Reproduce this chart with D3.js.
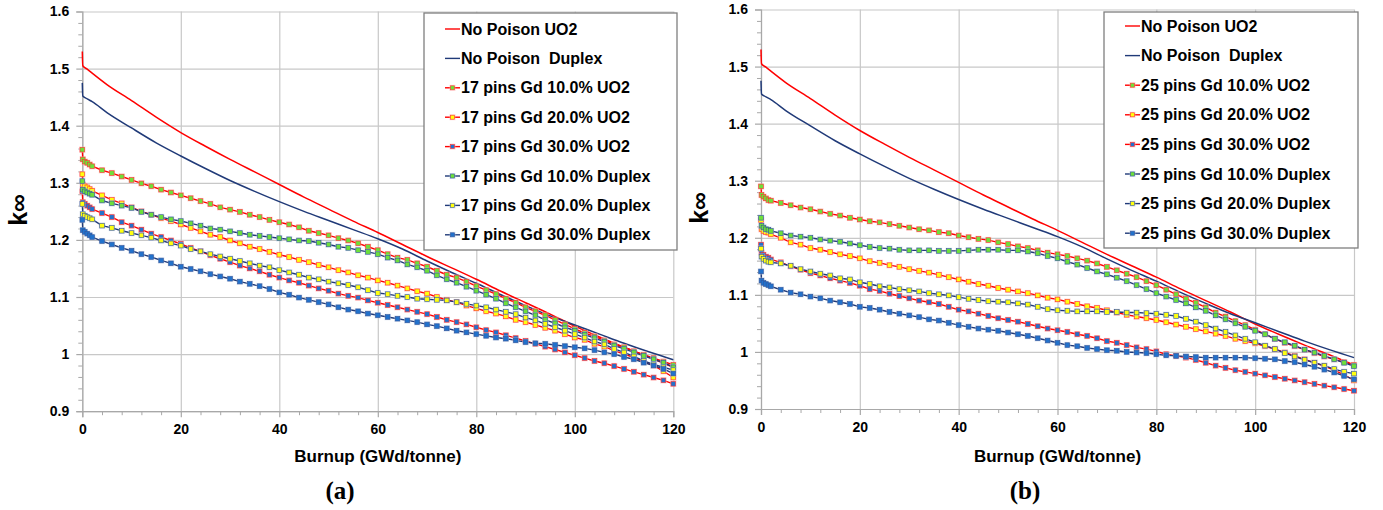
<!DOCTYPE html>
<html><head><meta charset="utf-8">
<script src="https://cdn.jsdelivr.net/npm/d3@7/dist/d3.min.js"></script>
<style>body{margin:0;background:#fff}svg{display:block}</style>
</head><body>
<svg id="chart" width="1383" height="510"></svg>
<script>
// ---------------- DATA ----------------
const burnup = [0,0.1,0.5,1,1.5,2,4,6,8,10,12,14,16,18,20,22,24,26,28,30,32,34,36,38,40,42,44,46,48,50,52,54,56,58,60,62,64,66,68,70,72,74,76,78,80,82,84,86,88,90,92,94,96,98,100,102,104,106,108,110,112,114,116,118,120];

const npBurnup = [0,0.1,1,2,5,10,15,20,25,30,35,40,45,50,55,60,65,70,75,80,85,90,95,100,105,110,115,120];
const npUO2    = [1.530,1.505,1.499,1.492,1.472,1.444,1.415,1.388,1.364,1.341,1.319,1.297,1.275,1.254,1.233,1.213,1.192,1.171,1.151,1.131,1.110,1.090,1.070,1.049,1.030,1.012,0.995,0.977];
const npDuplex = [1.475,1.452,1.447,1.442,1.423,1.396,1.370,1.347,1.325,1.304,1.285,1.267,1.250,1.234,1.218,1.202,1.184,1.163,1.143,1.124,1.104,1.085,1.067,1.051,1.035,1.019,1.004,0.990];

// 17 pins (panel a)
const p17_UO2_10 = [1.358,1.341,1.337,1.335,1.332,1.329,1.322,1.317,1.311,1.305,1.299,1.294,1.288,1.283,1.278,1.273,1.268,1.263,1.257,1.253,1.249,1.244,1.240,1.235,1.231,1.227,1.222,1.216,1.212,1.208,1.203,1.199,1.194,1.188,1.182,1.175,1.169,1.165,1.159,1.153,1.146,1.139,1.134,1.127,1.119,1.112,1.105,1.097,1.090,1.082,1.075,1.068,1.060,1.052,1.044,1.037,1.031,1.024,1.017,1.012,1.005,0.999,0.993,0.987,0.981];
const p17_UO2_20 = [1.315,1.297,1.294,1.292,1.289,1.286,1.278,1.270,1.264,1.257,1.250,1.244,1.238,1.233,1.227,1.221,1.215,1.209,1.205,1.199,1.194,1.188,1.184,1.179,1.174,1.170,1.165,1.161,1.156,1.152,1.147,1.143,1.138,1.134,1.129,1.125,1.120,1.115,1.110,1.106,1.100,1.095,1.091,1.085,1.080,1.075,1.071,1.066,1.060,1.056,1.051,1.046,1.041,1.035,1.029,1.025,1.018,1.013,1.006,1.000,0.994,0.987,0.980,0.970,0.959];
const p17_UO2_30 = [1.285,1.266,1.263,1.260,1.257,1.254,1.247,1.240,1.231,1.225,1.218,1.211,1.205,1.199,1.193,1.186,1.180,1.173,1.167,1.161,1.155,1.150,1.145,1.139,1.134,1.129,1.125,1.120,1.115,1.111,1.106,1.102,1.099,1.094,1.090,1.086,1.082,1.078,1.074,1.070,1.065,1.060,1.056,1.052,1.047,1.042,1.038,1.033,1.028,1.023,1.018,1.013,1.008,1.003,0.998,0.993,0.988,0.984,0.979,0.974,0.969,0.964,0.959,0.954,0.948];
const p17_Dup_10 = [1.303,1.288,1.285,1.283,1.281,1.279,1.269,1.264,1.260,1.256,1.249,1.244,1.240,1.236,1.233,1.229,1.225,1.220,1.218,1.215,1.212,1.209,1.207,1.205,1.203,1.201,1.199,1.198,1.195,1.192,1.188,1.186,1.182,1.179,1.175,1.169,1.164,1.157,1.152,1.146,1.138,1.131,1.125,1.118,1.111,1.104,1.097,1.089,1.082,1.075,1.068,1.060,1.054,1.047,1.041,1.034,1.028,1.022,1.015,1.009,1.003,0.997,0.991,0.985,0.977];
const p17_Dup_20 = [1.263,1.245,1.242,1.240,1.238,1.236,1.225,1.221,1.216,1.212,1.208,1.204,1.199,1.194,1.190,1.184,1.180,1.175,1.171,1.167,1.163,1.159,1.155,1.152,1.147,1.143,1.139,1.134,1.131,1.127,1.124,1.121,1.117,1.112,1.107,1.105,1.102,1.100,1.097,1.096,1.095,1.094,1.091,1.088,1.085,1.082,1.078,1.074,1.070,1.064,1.059,1.053,1.047,1.041,1.035,1.029,1.022,1.017,1.009,1.003,0.996,0.988,0.982,0.977,0.972];
const p17_Dup_30 = [1.235,1.217,1.214,1.211,1.208,1.205,1.198,1.192,1.186,1.181,1.175,1.170,1.164,1.159,1.153,1.149,1.145,1.140,1.136,1.132,1.127,1.123,1.119,1.114,1.108,1.104,1.099,1.095,1.091,1.087,1.082,1.078,1.075,1.071,1.068,1.065,1.062,1.059,1.056,1.052,1.049,1.045,1.041,1.038,1.035,1.032,1.029,1.027,1.024,1.021,1.019,1.018,1.016,1.014,1.012,1.010,1.007,1.003,1.000,0.995,0.991,0.985,0.980,0.974,0.966];

// 25 pins (panel b)
const p25_UO2_10 = [1.290,1.275,1.272,1.269,1.266,1.265,1.261,1.257,1.253,1.250,1.246,1.242,1.239,1.235,1.232,1.229,1.227,1.224,1.221,1.218,1.215,1.213,1.210,1.208,1.204,1.201,1.198,1.196,1.192,1.189,1.185,1.182,1.178,1.174,1.171,1.168,1.164,1.160,1.155,1.149,1.143,1.137,1.131,1.124,1.117,1.109,1.101,1.093,1.086,1.078,1.069,1.062,1.054,1.047,1.039,1.031,1.023,1.016,1.010,1.004,0.998,0.992,0.987,0.982,0.977];
const p25_UO2_20 = [1.231,1.215,1.212,1.210,1.209,1.206,1.200,1.192,1.188,1.182,1.179,1.175,1.171,1.168,1.164,1.159,1.156,1.152,1.149,1.145,1.142,1.139,1.135,1.131,1.127,1.123,1.119,1.116,1.112,1.109,1.106,1.103,1.099,1.095,1.092,1.088,1.084,1.080,1.077,1.073,1.069,1.065,1.062,1.059,1.056,1.052,1.048,1.044,1.040,1.036,1.032,1.028,1.023,1.019,1.015,1.010,1.005,0.999,0.993,0.987,0.981,0.975,0.968,0.960,0.950];
const p25_UO2_30 = [1.188,1.174,1.170,1.167,1.165,1.162,1.157,1.150,1.144,1.138,1.134,1.129,1.125,1.121,1.116,1.110,1.107,1.102,1.098,1.094,1.090,1.087,1.084,1.079,1.074,1.071,1.067,1.063,1.059,1.056,1.053,1.049,1.045,1.041,1.038,1.035,1.031,1.028,1.024,1.019,1.016,1.012,1.008,1.005,1.001,0.996,0.993,0.990,0.986,0.981,0.976,0.972,0.968,0.965,0.962,0.959,0.956,0.953,0.950,0.947,0.944,0.941,0.938,0.935,0.932];
const p25_Dup_10 = [1.235,1.221,1.218,1.215,1.214,1.212,1.208,1.204,1.202,1.200,1.197,1.195,1.193,1.190,1.187,1.184,1.182,1.181,1.179,1.178,1.178,1.178,1.177,1.177,1.177,1.178,1.179,1.179,1.179,1.178,1.178,1.176,1.173,1.168,1.164,1.158,1.153,1.147,1.141,1.136,1.130,1.124,1.117,1.110,1.103,1.097,1.091,1.085,1.078,1.072,1.064,1.057,1.050,1.044,1.037,1.031,1.023,1.017,1.011,1.004,0.999,0.993,0.987,0.981,0.975];
const p25_Dup_20 = [1.181,1.167,1.163,1.160,1.158,1.157,1.155,1.151,1.145,1.141,1.137,1.134,1.129,1.127,1.122,1.119,1.115,1.113,1.110,1.108,1.106,1.103,1.101,1.099,1.096,1.093,1.091,1.089,1.088,1.087,1.085,1.083,1.079,1.075,1.073,1.072,1.071,1.071,1.071,1.070,1.070,1.069,1.069,1.068,1.067,1.065,1.063,1.058,1.053,1.047,1.041,1.035,1.029,1.023,1.017,1.011,1.005,0.998,0.992,0.986,0.981,0.976,0.970,0.965,0.962];
const p25_Dup_30 = [1.141,1.125,1.121,1.119,1.117,1.115,1.109,1.104,1.101,1.097,1.094,1.090,1.087,1.084,1.079,1.077,1.074,1.070,1.067,1.064,1.061,1.057,1.055,1.051,1.047,1.044,1.041,1.039,1.037,1.034,1.031,1.028,1.024,1.020,1.016,1.012,1.010,1.007,1.005,1.003,1.002,1.000,0.999,0.998,0.996,0.994,0.993,0.992,0.991,0.990,0.990,0.990,0.990,0.990,0.989,0.988,0.987,0.984,0.982,0.978,0.974,0.969,0.964,0.958,0.952];

const names17 = ["No Poison UO2","No Poison  Duplex","17 pins Gd 10.0% UO2","17 pins Gd 20.0% UO2","17 pins Gd 30.0% UO2","17 pins Gd 10.0% Duplex","17 pins Gd 20.0% Duplex","17 pins Gd 30.0% Duplex"];
const names25 = ["No Poison UO2","No Poison  Duplex","25 pins Gd 10.0% UO2","25 pins Gd 20.0% UO2","25 pins Gd 30.0% UO2","25 pins Gd 10.0% Duplex","25 pins Gd 20.0% Duplex","25 pins Gd 30.0% Duplex"];

const xTicks = [0,20,40,60,80,100,120];
const xTickLabels = ["0","20","40","60","80","100","120"];
const yTicks = [0.9,1.0,1.1,1.2,1.3,1.4,1.5,1.6];
const yTickLabels = ["0.9","1","1.1","1.2","1.3","1.4","1.5","1.6"];
const xTitle = "Burnup (GWd/tonne)";
const yTitle = "k\u221E";

// ---------------- STYLE ----------------
const RED = "#ff0000", NAVY = "#203a78";
const GREEN = "#6ee03a", YELLOW = "#ffff10", BLUE = "#2272cc";
const font = "'Liberation Sans', Arial, sans-serif";

const svg = d3.select("#chart");
svg.append("rect").attr("width",1383).attr("height",510).attr("fill","#fff");

function panel(cfg){
  const x = d3.scaleLinear().domain([0,120]).range([cfg.x0,cfg.x1]);
  const y = d3.scaleLinear().domain([0.9,1.6]).range([cfg.yBot,cfg.yTop]);
  const g = svg.append("g");

  // gridlines
  g.append("g").attr("transform",`translate(0,${cfg.yBot})`)
    .call(d3.axisBottom(x).tickValues(xTicks).tickSize(-(cfg.yBot-cfg.yTop)).tickFormat(""))
    .call(s=>{s.select(".domain").remove(); s.selectAll("line").attr("stroke","#c8c8c8").attr("stroke-width",1.2);});
  g.append("g").attr("transform",`translate(${cfg.x0},0)`)
    .call(d3.axisLeft(y).tickValues(yTicks).tickSize(-(cfg.x1-cfg.x0)).tickFormat(""))
    .call(s=>{s.select(".domain").remove(); s.selectAll("line").attr("stroke","#c8c8c8").attr("stroke-width",1.2);});

  // minor ticks
  const yMinor = d3.range(45,81).map(v=>v/50).filter(v=>Math.round(v*50)%5!==0);
  g.append("g").attr("transform",`translate(${cfg.x0},0)`)
    .call(d3.axisLeft(y).tickValues(yMinor).tickSize(4).tickFormat(""))
    .call(s=>{s.select(".domain").remove(); s.selectAll("line").attr("stroke","#a8a8a8");});
  const xMinor = d3.range(0,121,4).filter(v=>v%20!==0);
  g.append("g").attr("transform",`translate(0,${cfg.yBot})`)
    .call(d3.axisBottom(x).tickValues(xMinor).tickSize(4).tickFormat(""))
    .call(s=>{s.select(".domain").remove(); s.selectAll("line").attr("stroke","#a8a8a8");});

  // main axes
  const ya = g.append("g").attr("transform",`translate(${cfg.x0},0)`)
    .call(d3.axisLeft(y).tickValues(yTicks).tickSize(6).tickPadding(7).tickFormat((d,i)=>yTickLabels[i]));
  const xa = g.append("g").attr("transform",`translate(0,${cfg.yBot})`)
    .call(d3.axisBottom(x).tickValues(xTicks).tickSize(6).tickPadding(7).tickFormat((d,i)=>xTickLabels[i]));
  [ya,xa].forEach(a=>{
    a.select(".domain").attr("stroke","#a8a8a8").attr("stroke-width",1.2);
    a.selectAll(".tick line").attr("stroke","#a8a8a8").attr("stroke-width",1.2);
    a.selectAll("text").attr("font-family",font).attr("font-weight","bold").attr("font-size",14).attr("fill","#000");
  });

  // titles
  g.append("text").attr("x",(cfg.x0+cfg.x1)/2).attr("y",462).attr("text-anchor","middle")
    .attr("font-family",font).attr("font-weight","bold").attr("font-size",17).attr("fill","#000").text(xTitle);
  g.append("text").attr("transform",`translate(${cfg.ytitleX},${cfg.ytitleY}) rotate(-90)`).attr("text-anchor","middle")
    .attr("dominant-baseline","central")
    .attr("font-family",font).attr("font-weight","bold").attr("font-size",25).attr("fill","#000").text(yTitle);
  g.append("text").attr("x",cfg.labelX).attr("y",499).attr("text-anchor","middle")
    .attr("font-family","'Liberation Serif','DejaVu Serif',serif").attr("font-weight","bold").attr("font-size",25).attr("fill","#000").text(cfg.label);

  // lines
  const lineNP = d3.line().x((d,i)=>x(npBurnup[i])).y(d=>y(d)).curve(d3.curveMonotoneX);
  const lineS = d3.line().x((d,i)=>x(burnup[i])).y(d=>y(d));
  const plot = g.append("g");
  plot.append("path").attr("d",lineNP(npUO2)).attr("fill","none").attr("stroke",RED).attr("stroke-width",1.5);
  plot.append("path").attr("d",lineNP(npDuplex)).attr("fill","none").attr("stroke",NAVY).attr("stroke-width",1.5);

  const styles = [
    {line:RED, fill:GREEN, edge:"#ff3030", halo:"#ffb4b4"},
    {line:RED, fill:YELLOW, edge:"#ff3030", halo:"#ffb4b4"},
    {line:RED, fill:BLUE, edge:"#ff3030", halo:"#ffb4b4"},
    {line:NAVY, fill:GREEN, edge:"#34569a", halo:"#b8c8e4"},
    {line:NAVY, fill:YELLOW, edge:"#34569a", halo:"#b8c8e4"},
    {line:NAVY, fill:BLUE, edge:"#34569a", halo:"#b8c8e4"}
  ];
  cfg.series.forEach((s,k)=>{
    const st = styles[k];
    plot.append("path").attr("d",lineS(s)).attr("fill","none").attr("stroke",st.line).attr("stroke-width",1.4);
  });
  cfg.series.forEach((s,k)=>{
    const st = styles[k];
    const mg = plot.append("g");
    mg.selectAll("rect.h").data(s).join("rect").attr("class","h")
      .attr("x",(d,i)=>x(burnup[i])-3.2).attr("y",d=>y(d)-3.2).attr("width",6.4).attr("height",6.4)
      .attr("fill",st.halo).attr("opacity",0.55);
    mg.selectAll("rect.m").data(s).join("rect").attr("class","m")
      .attr("x",(d,i)=>x(burnup[i])-2.3).attr("y",d=>y(d)-2.3).attr("width",4.6).attr("height",4.6)
      .attr("fill",st.fill).attr("stroke",st.edge).attr("stroke-width",0.6);
  });

  // legend
  const L = cfg.legend;
  const lg = g.append("g");
  lg.append("rect").attr("x",L.x).attr("y",L.y).attr("width",L.w).attr("height",L.h)
    .attr("fill","#fff").attr("stroke","#7f7f7f").attr("stroke-width",1.3);
  const legStyles = [{line:RED},{line:NAVY}].concat(styles);
  cfg.names.forEach((nm,i)=>{
    const yy = L.rowY0 + i*L.rowDy;
    const st = legStyles[i];
    lg.append("line").attr("x1",L.symX).attr("x2",L.symX+15).attr("y1",yy).attr("y2",yy)
      .attr("stroke",st.line).attr("stroke-width",1.4);
    if(st.fill){
      lg.append("rect").attr("x",L.symX+7.5-3).attr("y",yy-3).attr("width",6).attr("height",6).attr("fill",st.halo).attr("opacity",0.55);
      lg.append("rect").attr("x",L.symX+7.5-2).attr("y",yy-2).attr("width",4).attr("height",4)
        .attr("fill",st.fill).attr("stroke",st.edge).attr("stroke-width",0.6);
    }
    lg.append("text").attr("x",L.textX).attr("y",yy).attr("dominant-baseline","central")
      .attr("font-family",font).attr("font-weight","bold").attr("font-size",16).attr("fill","#000")
      .style("white-space","pre").text(nm);
  });
}

panel({x0:82.3,x1:673.3,yTop:11.5,yBot:411.2,
  series:[p17_UO2_10,p17_UO2_20,p17_UO2_30,p17_Dup_10,p17_Dup_20,p17_Dup_30],
  names:names17, ytitleX:18, ytitleY:210, label:"(a)", labelX:340,
  legend:{x:424,y:13,w:253,h:237,rowY0:29,rowDy:29.4,symX:445,textX:461}});
panel({x0:761,x1:1354,yTop:9.5,yBot:409,
  series:[p25_UO2_10,p25_UO2_20,p25_UO2_30,p25_Dup_10,p25_Dup_20,p25_Dup_30],
  names:names25, ytitleX:699, ytitleY:208, label:"(b)", labelX:1025,
  legend:{x:1104,y:12,w:254,h:236,rowY0:26,rowDy:29.6,symX:1125,textX:1141}});
</script>
</body></html>
